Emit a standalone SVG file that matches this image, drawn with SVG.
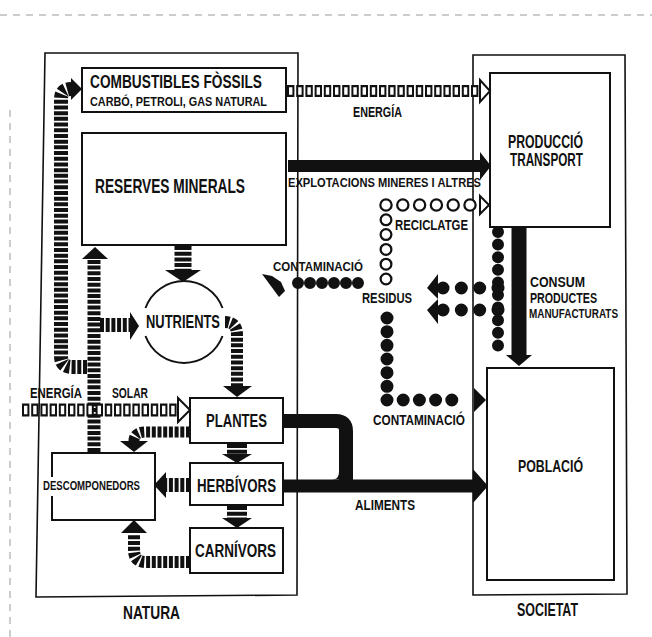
<svg xmlns="http://www.w3.org/2000/svg" width="652" height="637" viewBox="0 0 652 637">
<defs>
<style>
.t{font-family:"Liberation Sans",Arial,sans-serif;font-weight:bold;fill:#111}
.box{fill:#fff;stroke:#111;stroke-width:2}
.frame{fill:none;stroke:#111;stroke-width:1.6}
.scan{fill:none;stroke:#999;stroke-width:1;stroke-dasharray:7 6}
.st{fill:none;stroke:#111;stroke-dasharray:4 1.7}
.bar{fill:none;stroke:#111}
.head{fill:#111}
.ohead{fill:#fff;stroke:#111;stroke-width:2}
.dot{fill:none;stroke:#111;stroke-linecap:round}
.wdot{fill:none;stroke:#fff;stroke-linecap:round}
.sq{fill:none;stroke:#111;stroke-dasharray:7.4 1.8}
.wsq{fill:none;stroke:#fff;stroke-dasharray:0 2 3.4 3.8}
.arc{fill:none;stroke:#111;stroke-width:2}
</style>
</defs>
<rect width="652" height="637" fill="#fff"/>
<g id="scan-edges">
<path class="scan" d="M0,15 H652"/>
<path class="scan" d="M10,110 V637"/>
</g>
<g id="natura">
<polygon class="frame" points="45,53 298,53 297,595 36,597"/>
<text class="t" x="123" y="619" font-size="18" textLength="57" lengthAdjust="spacingAndGlyphs">NATURA</text>
</g>
<g id="societat">
<polygon class="frame" points="473,55 625,55 627,594 473,595"/>
<text class="t" x="517" y="616" font-size="18" textLength="61" lengthAdjust="spacingAndGlyphs">SOCIETAT</text>
</g>
<g id="combustibles">
<rect class="box" x="82" y="68" width="204" height="44"/>
<text class="t" x="90" y="88" font-size="18" textLength="172" lengthAdjust="spacingAndGlyphs">COMBUSTIBLES FÒSSILS</text>
<text class="t" x="90" y="106" font-size="13" textLength="177" lengthAdjust="spacingAndGlyphs">CARBÓ, PETROLI, GAS NATURAL</text>
</g>
<g id="reserves">
<rect class="box" x="82" y="133" width="204" height="112"/>
<text class="t" x="95" y="193" font-size="19.5" textLength="150" lengthAdjust="spacingAndGlyphs">RESERVES MINERALS</text>
</g>
<g id="produccio">
<rect class="box" x="490" y="73" width="120" height="154"/>
<text class="t" x="508" y="148" font-size="18" textLength="75" lengthAdjust="spacingAndGlyphs">PRODUCCIÓ</text>
<text class="t" x="510" y="166" font-size="18" textLength="73" lengthAdjust="spacingAndGlyphs">TRANSPORT</text>
</g>
<g id="poblacio">
<rect class="box" x="487" y="368" width="127" height="212"/>
<text class="t" x="518" y="472" font-size="17" textLength="65" lengthAdjust="spacingAndGlyphs">POBLACIÓ</text>
</g>
<g id="nutrients">
<path class="arc" d="M145.5,308 A41,41 0 0 1 222.5,308"/>
<path class="arc" d="M222.5,336 A41,41 0 0 1 145.5,336"/>
<text class="t" x="146" y="328" font-size="19" textLength="74" lengthAdjust="spacingAndGlyphs">NUTRIENTS</text>
</g>
<g id="plantes">
<rect class="box" x="190" y="398" width="93" height="45"/>
<text class="t" x="206" y="427" font-size="18" textLength="61" lengthAdjust="spacingAndGlyphs">PLANTES</text>
</g>
<g id="herbivors">
<rect class="box" x="190" y="463" width="93" height="42"/>
<text class="t" x="197" y="492" font-size="19" textLength="79" lengthAdjust="spacingAndGlyphs">HERBÍVORS</text>
</g>
<g id="carnivors">
<rect class="box" x="190" y="528" width="93" height="45"/>
<text class="t" x="195" y="557" font-size="19" textLength="81" lengthAdjust="spacingAndGlyphs">CARNÍVORS</text>
</g>
<g id="descomponedors">
<path class="box" d="M52,477 V453 H155 V520 H52 V496"/>
<text class="t" x="43" y="490" font-size="13" textLength="97" lengthAdjust="spacingAndGlyphs">DESCOMPONEDORS</text>
</g>
<g id="connectors">
<path class="st" stroke-width="17" d="M183,246 V271"/>
<polygon class="head" points="165,270 201,270 183,282"/>
<path class="st" stroke-width="13" d="M94,452 V259"/>
<polygon class="head" points="82,259 108,259 95,247"/>
<path class="st" stroke-width="14" d="M100,325 H131"/>
<polygon class="head" points="130,312 139,326 130,340"/>
<path class="st" stroke-width="14" d="M87,367 H72 Q61,367 61,356 V99 Q61,89 71,89"/>
<polygon class="head" points="71,78 82,89 71,100"/>
<path class="st" stroke-width="12" d="M225,322 Q237,322 237,335 V387"/>
<polygon class="head" points="223,386 252,386 237,397"/>
<path class="st" stroke-width="11" d="M190,432 H146 Q134,432 134,441"/>
<polygon class="head" points="120,441 148,441 134,452"/>
<path class="st" stroke-width="20" d="M237,444 V455"/>
<polygon class="head" points="222,454 252,454 237,463"/>
<path class="st" stroke-width="14" d="M190,485 H166"/>
<polygon class="head" points="166,472 154,485 166,498"/>
<path class="st" stroke-width="20" d="M237,506 V518"/>
<polygon class="head" points="222,518 252,518 237,528"/>
<path class="st" stroke-width="12" d="M190,562 H146 Q134,562 134,550 V534"/>
<polygon class="head" points="121,533 147,533 134,520"/>
<path class="sq" stroke-width="12" d="M287,91 H479"/>
<path class="wsq" stroke-width="7.5" d="M287,91 H479"/>
<polygon class="ohead" points="480,80 490,91 480,102"/>
<path class="sq" stroke-width="13" d="M22,410 H177"/>
<path class="wsq" stroke-width="8.5" d="M22,410 H177"/>
<polygon class="ohead" points="178,398 190,410 178,422"/>
<path class="bar" stroke-width="12" d="M288,166 H481"/>
<polygon class="head" points="480,152 491,166 480,180"/>
<path class="bar" stroke-width="15" d="M519,228 V356"/>
<polygon class="head" points="506,355 532,355 519,366"/>
<path class="bar" stroke-width="14" d="M283,421 H336 Q346,421 346,431 V486"/>
<path class="bar" stroke-width="13" d="M283,486 H474"/>
<path class="head" d="M332,479.5 Q339,479.5 339,472 V479.5 Z"/>
<polygon class="head" points="473,469 488,486 473,503"/>
<path class="dot" stroke-width="13" stroke-dasharray="0 14.8" d="M386,279 V205"/>
<path class="wdot" stroke-width="8.5" stroke-dasharray="0 14.8" d="M386,279 V205"/>
<path class="dot" stroke-width="13.5" stroke-dasharray="0 16.8" d="M386,205 H470"/>
<path class="wdot" stroke-width="9" stroke-dasharray="0 16.8" d="M386,205 H470"/>
<polygon class="ohead" points="480,196 489,205 480,214"/>
<path class="dot" stroke-width="12" stroke-dasharray="0 12" d="M358,283 H286"/>
<polygon class="head" points="262,274 272,276 281,282 285,291 279,297"/>
<path class="dot" stroke-width="13" stroke-dasharray="0 13.67" d="M387,318 V400"/>
<path class="dot" stroke-width="13" stroke-dasharray="0 16.2" d="M387,400 H468"/>
<polygon class="head" points="474,388 486,400 474,412"/>
<path class="dot" stroke-width="12" stroke-dasharray="0 12.6" d="M498,232 V358"/>
<path class="dot" stroke-width="13" stroke-dasharray="0 18.33" d="M498,288 H443"/>
<path class="dot" stroke-width="13" stroke-dasharray="0 18.33" d="M498,310 H443"/>
<polygon class="head" points="438,274 427,288 438,299"/>
<polygon class="head" points="438,299 427,310 438,324"/>
</g>
<g id="labels">
<text class="t" x="353" y="117" font-size="14" textLength="49" lengthAdjust="spacingAndGlyphs">ENERGÍA</text>
<text class="t" x="288" y="187" font-size="12.5" textLength="193" lengthAdjust="spacingAndGlyphs">EXPLOTACIONS MINERES I ALTRES</text>
<text class="t" x="395" y="230" font-size="14" textLength="73" lengthAdjust="spacingAndGlyphs">RECICLATGE</text>
<text class="t" x="273" y="271" font-size="13.5" textLength="90" lengthAdjust="spacingAndGlyphs">CONTAMINACIÓ</text>
<text class="t" x="362" y="303" font-size="14" textLength="50" lengthAdjust="spacingAndGlyphs">RESIDUS</text>
<text class="t" x="530" y="287" font-size="14" textLength="55" lengthAdjust="spacingAndGlyphs">CONSUM</text>
<text class="t" x="530" y="303" font-size="14" textLength="67" lengthAdjust="spacingAndGlyphs">PRODUCTES</text>
<text class="t" x="529" y="318" font-size="13.5" textLength="89" lengthAdjust="spacingAndGlyphs">MANUFACTURATS</text>
<text class="t" x="373" y="425" font-size="14" textLength="92" lengthAdjust="spacingAndGlyphs">CONTAMINACIÓ</text>
<text class="t" x="355" y="510" font-size="14.5" textLength="60" lengthAdjust="spacingAndGlyphs">ALIMENTS</text>
<text class="t" x="30" y="398" font-size="14" textLength="52" lengthAdjust="spacingAndGlyphs">ENERGÍA</text>
<text class="t" x="112" y="398" font-size="14" textLength="36" lengthAdjust="spacingAndGlyphs">SOLAR</text>
</g>
</svg>
